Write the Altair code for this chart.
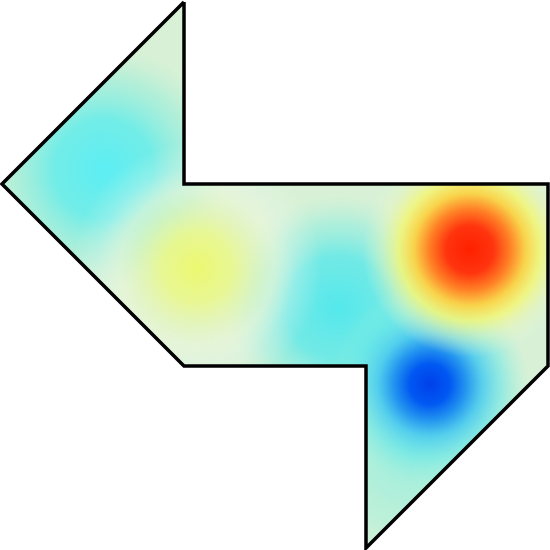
import altair as alt
import pandas as pd

# Polygon outline vertices (domain units, y pointing down)
poly_x = [1, 1, 3, 3, 2, 2, 1, 0, 1]
poly_y = [0, 1, 1, 2, 3, 2, 2, 1, 0]

# Vertical cross-sections of the polygon (x, top edge, bottom edge)
sec_x = [0, 1, 1, 2, 2, 3]
sec_top = [1, 0, 1, 1, 1, 1]
sec_bot = [1, 2, 2, 2, 3, 2]

# Outside masks
mtop_x = [-0.05, 0, 0, 1, 1, 3, 3, 3.05]
mtop_b = [3.05, 3.05, 1, 0, 1, 1, 3.05, 3.05]
mbot_x = [0, 1, 2, 2, 3]
mbot_b = [1, 2, 2, 3, 2]

# Field extrema (x, y, label)
blob_x = [1.85, 0.56, 1.07, 2.57, 2.35, 2.25, 1.07]
blob_y = [1.68, 0.92, 1.46, 1.36, 2.10, 2.45, 1.46]
blob_name = ["cyan_mid", "cyan_left", "yellow", "red", "blue", "cyan_low", "node"]

DOM = [-0.011, 3.011]
xs = alt.Scale(domain=DOM, nice=False, zero=False)
ys = alt.Scale(domain=DOM, nice=False, zero=False, reverse=True)

fill_df = pd.DataFrame({"x": sec_x, "lo": sec_top, "hi": sec_bot})
mtop_df = pd.DataFrame({"x": mtop_x, "lo": [-0.05] * len(mtop_x), "hi": mtop_b})
mbot_df = pd.DataFrame({"x": mbot_x, "lo": mbot_b, "hi": [3.05] * len(mbot_x)})
poly_df = pd.DataFrame({"x": poly_x, "y": poly_y, "i": range(len(poly_x))})
blob_df = pd.DataFrame({"x": blob_x, "y": blob_y, "name": blob_name})


def area(df, color):
    return alt.Chart(df).mark_area(color=color, clip=True, opacity=1, interpolate="linear").encode(
        x=alt.X("x:Q", scale=xs, axis=None),
        y=alt.Y("lo:Q", scale=ys, axis=None, stack=None),
        y2="hi:Q",
    )


def rg(stops):
    return {
        "gradient": "radial",
        "x1": 0.5, "y1": 0.5, "r1": 0,
        "x2": 0.5, "y2": 0.5, "r2": 0.5,
        "stops": [{"offset": o, "color": c} for o, c in stops],
    }


def blob(name, stops, size):
    return alt.Chart(blob_df).transform_filter(
        alt.datum.name == name
    ).mark_point(shape="circle", filled=True, fill=rg(stops), size=size,
                 opacity=1, strokeWidth=0).encode(
        x=alt.X("x:Q", scale=xs, axis=None),
        y=alt.Y("y:Q", scale=ys, axis=None),
    )


base = area(fill_df, "#d8f1d6")

b_low = blob("cyan_low", [
    (0, "rgba(120,236,228,0.7)"),
    (0.6, "rgba(150,238,220,0.4)"),
    (1, "rgba(180,238,215,0)")], 260 ** 2)
b_mid = blob("cyan_mid", [
    (0, "rgba(84,232,236,1)"),
    (0.45, "rgba(96,232,232,0.85)"),
    (0.75, "rgba(130,236,224,0.45)"),
    (1, "rgba(180,238,215,0)")], 230 ** 2)
b_left = blob("cyan_left", [
    (0, "rgba(92,238,244,1)"),
    (0.4, "rgba(100,236,234,0.88)"),
    (0.75, "rgba(140,236,218,0.45)"),
    (1, "rgba(180,238,210,0)")], 250 ** 2)
b_node = blob("node", [
    (0, "rgba(242,248,238,0)"),
    (0.45, "rgba(242,248,238,0.15)"),
    (0.62, "rgba(242,248,238,0.45)"),
    (0.8, "rgba(242,248,238,0.25)"),
    (1, "rgba(242,248,238,0)")], 250 ** 2)
b_yel = blob("yellow", [
    (0, "rgba(236,248,112,1)"),
    (0.35, "rgba(234,248,135,0.85)"),
    (0.7, "rgba(232,246,185,0.4)"),
    (1, "rgba(232,245,215,0)")], 200 ** 2)
b_red = blob("red", [
    (0, "rgba(255,32,0,1)"),
    (0.22, "rgba(255,52,14,1)"),
    (0.38, "rgba(255,130,38,1)"),
    (0.52, "rgba(250,210,70,0.97)"),
    (0.66, "rgba(242,246,118,0.85)"),
    (0.82, "rgba(236,246,180,0.45)"),
    (1, "rgba(232,244,215,0)")], 215 ** 2)
b_blue = blob("blue", [
    (0, "rgba(0,64,234,1)"),
    (0.2, "rgba(0,88,242,1)"),
    (0.36, "rgba(30,145,240,0.97)"),
    (0.52, "rgba(68,200,240,0.85)"),
    (0.74, "rgba(100,230,232,0.5)"),
    (1, "rgba(150,240,220,0)")], 200 ** 2)

m1 = area(mtop_df, "white")
m2 = area(mbot_df, "white")

outline = alt.Chart(poly_df).mark_line(color="black", strokeWidth=3.5, strokeJoin="miter",
                                      clip=False).encode(
    x=alt.X("x:Q", scale=xs, axis=None),
    y=alt.Y("y:Q", scale=ys, axis=None),
    order="i:Q",
)

chart = alt.layer(base, b_low, b_left, b_mid, b_node, b_yel, b_blue, b_red, m1, m2, outline).properties(
    width=550, height=550, padding=0, autosize="none", background="white"
).configure_view(stroke=None)

chart.save("out.html", embed_options={"renderer": "svg", "actions": False})
